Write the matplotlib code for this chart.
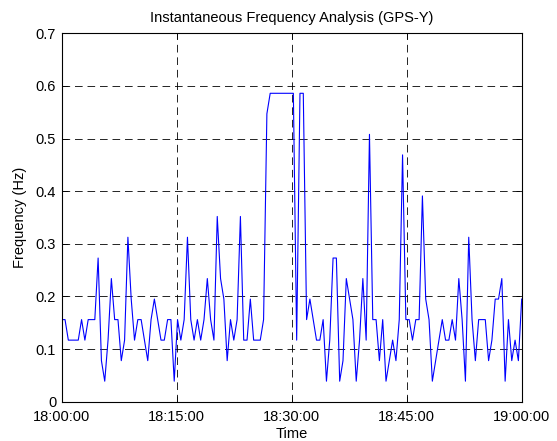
import matplotlib

matplotlib.use("Agg")
import matplotlib.pyplot as plt
import numpy as np

plt.rcParams.update({
    "font.family": ["Liberation Sans", "DejaVu Sans"],
    "font.size": 10.5,
    "lines.scale_dashes": False,
})

# instantaneous frequency samples (Hz), evenly spaced from 18:00:00 to 19:00:00
freq = [
    0.156, 0.156, 0.117, 0.117, 0.117, 0.117, 0.156, 0.117, 0.156, 0.156,
    0.156, 0.273, 0.078, 0.039, 0.117, 0.234, 0.156, 0.156, 0.078, 0.117,
    0.3125, 0.195, 0.117, 0.156, 0.156, 0.117, 0.078, 0.156, 0.195, 0.156,
    0.117, 0.117, 0.156, 0.156, 0.039, 0.156, 0.117, 0.156, 0.3125, 0.156,
    0.117, 0.156, 0.117, 0.156, 0.234, 0.156, 0.117, 0.352, 0.234, 0.195,
    0.078, 0.156, 0.117, 0.156, 0.352, 0.117, 0.117, 0.195, 0.117, 0.117,
    0.117, 0.156, 0.547, 0.586, 0.586, 0.586, 0.586, 0.586, 0.586, 0.586,
    0.586, 0.117, 0.586, 0.586, 0.156, 0.195, 0.156, 0.117, 0.117, 0.156,
    0.039, 0.117, 0.273, 0.273, 0.039, 0.078, 0.234, 0.195, 0.156, 0.039,
    0.117, 0.234, 0.117, 0.508, 0.156, 0.156, 0.078, 0.156, 0.039, 0.078,
    0.117, 0.078, 0.156, 0.469, 0.156, 0.156, 0.117, 0.156, 0.156, 0.391,
    0.195, 0.156, 0.039, 0.078, 0.117, 0.156, 0.117, 0.117, 0.156, 0.117,
    0.234, 0.156, 0.039, 0.3125, 0.156, 0.078, 0.156, 0.156, 0.156, 0.078,
    0.117, 0.195, 0.195, 0.234, 0.039, 0.156, 0.078, 0.117, 0.078, 0.195,
]
minutes = np.linspace(0, 60, len(freq))

tick_min = [0, 15, 30, 45, 60]
tick_lbl = ["18:00:00", "18:15:00", "18:30:00", "18:45:00", "19:00:00"]
y_ticks = [0, 0.1, 0.2, 0.3, 0.4, 0.5, 0.6, 0.7]

fig = plt.figure(figsize=(5.57, 4.41), dpi=100)
ax = fig.add_axes([0.1108, 0.0891, 0.8258, 0.8354])

ax.plot(minutes, freq, color="#0000ff", lw=0.8)

ax.set_xlim(0, 60)
ax.set_ylim(0, 0.7)
ax.set_xticks(tick_min)
ax.set_xticklabels(tick_lbl)
ax.set_yticks(y_ticks)
ax.set_yticklabels(["0"] + [f"{v:.1f}" for v in y_ticks[1:]])
ax.tick_params(direction="in", top=True, right=True, length=4, width=0.6)
ax.tick_params(axis="x", pad=6)
ax.tick_params(axis="y", pad=4)
for s in ax.spines.values():
    s.set_linewidth(0.8)

ax.grid(True, color="black", linestyle=(0, (5.5, 3.5)), linewidth=0.6)
ax.set_axisbelow(True)

ax.set_title("Instantaneous Frequency Analysis (GPS-Y)", fontsize=10.5, pad=8)
ax.set_xlabel("Time", labelpad=2)
ax.set_ylabel("Frequency (Hz)", labelpad=6)

fig.savefig("out.png", dpi=100)
